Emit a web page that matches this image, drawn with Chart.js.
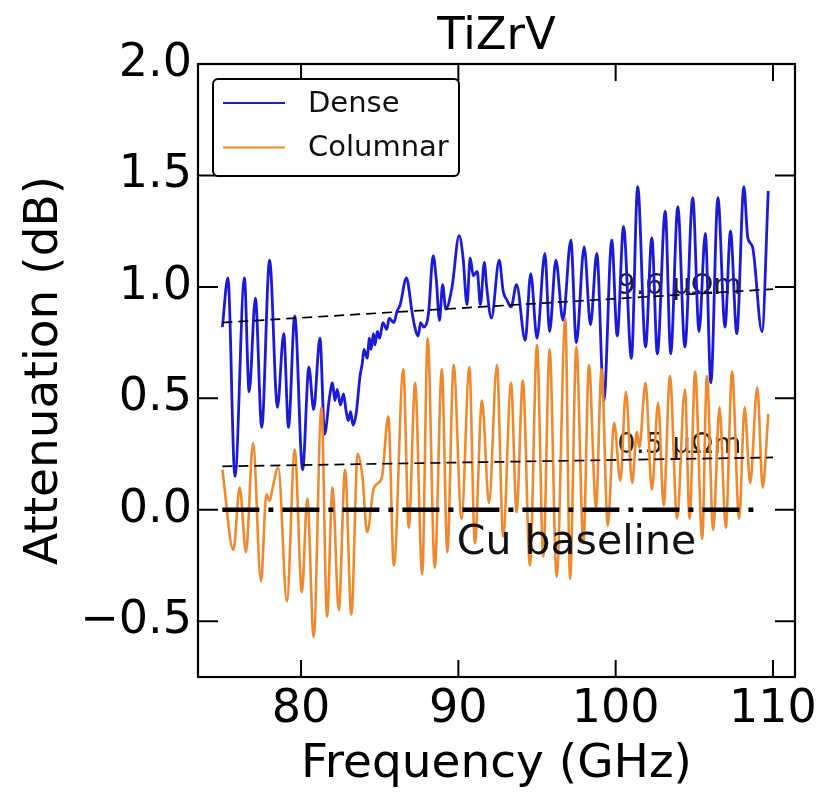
<!DOCTYPE html>
<html><head><meta charset="utf-8">
<script src="https://cdn.jsdelivr.net/npm/chart.js@4.4.0/dist/chart.umd.min.js"></script>
<style>html,body{margin:0;padding:0;background:#fff;}</style>
</head><body>
<canvas id="c" width="818" height="793"></canvas>
<script>
// ---- data ----
const denseFreq = [75.0,75.35,75.8,76.4,76.7,77.1,77.5,78.0,78.5,78.9,79.2,79.6,80.1,80.5,80.8,81.2,81.5,81.8,82.0,82.15,82.3,82.5,82.7,82.85,83.0,83.15,83.3,83.5,83.75,83.9,84.0,84.2,84.35,84.45,84.6,84.7,84.85,85.0,85.2,85.45,85.6,85.9,86.1,86.3,86.7,87.05,87.2,87.45,87.6,87.8,88.1,88.4,88.6,88.8,89.0,89.2,89.6,90.05,90.3,90.55,90.75,90.95,91.2,91.4,91.65,91.8,92.1,92.6,92.85,93.1,93.35,93.7,94.25,94.6,95.0,95.5,95.8,96.2,96.65,97.15,97.5,98.0,98.4,98.8,99.25,99.75,100.1,100.5,101.0,101.4,101.9,102.3,102.65,103.15,103.5,103.95,104.4,104.9,105.3,105.7,106.05,106.5,106.95,107.3,107.7,108.15,108.4,108.7,109.3,109.7];
const denseAtt  = [0.82,1.04,0.15,1.04,0.53,0.95,0.37,1.12,0.46,0.79,0.37,0.87,0.18,0.64,0.45,0.77,0.34,0.50,0.57,0.49,0.54,0.47,0.52,0.45,0.40,0.44,0.38,0.43,0.60,0.66,0.72,0.68,0.77,0.72,0.79,0.74,0.80,0.77,0.84,0.81,0.86,0.84,0.89,0.92,1.04,0.89,0.83,0.78,0.84,0.82,0.88,1.14,1.03,0.85,1.01,0.90,1.00,1.23,1.13,0.92,1.13,1.05,1.07,0.92,1.11,1.00,0.86,1.12,0.98,0.94,0.91,1.01,0.76,1.06,0.77,1.15,0.80,1.12,0.85,1.21,0.75,1.18,0.83,1.15,0.49,1.21,0.78,1.27,0.68,1.45,0.73,1.22,0.70,1.34,0.70,1.36,0.73,1.40,0.80,1.24,0.57,1.40,0.82,1.25,0.79,1.45,1.22,1.18,0.80,1.43];
const colFreq = [75.0,75.7,76.1,76.5,76.95,77.45,77.8,78.0,78.2,78.55,79.1,79.6,80.05,80.4,80.8,81.3,81.65,82.0,82.4,82.8,83.2,83.6,83.9,84.2,84.6,84.9,85.15,85.55,85.9,86.5,86.85,87.25,87.7,88.05,88.5,88.95,89.3,89.7,90.2,90.7,91.05,91.5,91.95,92.45,92.85,93.35,93.7,94.1,94.55,95.0,95.4,95.8,96.25,96.8,97.1,97.5,97.95,98.3,98.75,99.1,99.5,99.9,100.3,100.65,101.05,101.35,101.5,101.9,102.3,102.7,103.05,103.45,103.9,104.4,104.7,105.05,105.5,105.8,106.2,106.6,107.0,107.4,107.85,108.2,108.55,109.0,109.35,109.7];
const colAtt  = [0.18,-0.18,0.10,-0.19,0.30,-0.32,0.07,0.04,0.10,0.19,-0.41,0.27,-0.37,0.05,-0.57,0.46,-0.48,0.10,-0.45,0.18,-0.47,0.25,0.15,-0.10,0.09,0.12,0.15,0.42,-0.25,0.63,-0.08,0.57,-0.29,0.77,-0.26,0.63,-0.19,0.65,-0.04,0.64,-0.15,0.49,0.03,0.65,-0.12,0.57,-0.01,0.58,-0.25,0.74,-0.21,0.72,-0.30,0.86,-0.31,0.73,-0.15,0.65,0.01,0.63,-0.07,0.39,0.13,0.53,0.12,0.35,0.28,0.57,0.09,0.48,0.02,0.60,-0.04,0.54,-0.04,0.62,-0.13,0.60,-0.09,0.46,-0.08,0.62,-0.04,0.46,0.12,0.55,0.10,0.43];
const fitDenseFreq = [75, 110];
const fitDenseAtt  = [0.84, 0.99];
const fitColFreq = [75, 110];
const fitColAtt  = [0.195, 0.235];
const baseFreq = [75, 109.2];
const baseAtt  = [0, 0];
const xTicks = [80, 90, 100, 110];
const yTicks = [-0.5, 0.0, 0.5, 1.0, 1.5, 2.0];
const seriesLabels = ['Dense', 'Columnar'];
const notes = [
  {text: '9.6 \u03bc\u03a9m', x: 100.1, y: 0.97},
  {text: '0.5 \u03bc\u03a9m', x: 100.1, y: 0.255},
  {text: 'Cu baseline', x: 89.9, y: -0.2}
];

const pts = (xs, ys) => xs.map((x, i) => ({x: x, y: ys[i]}));
const FONT = 'DejaVu Sans';
const BLUE = '#1a1ad8', ORANGE = '#f0892e';

const framePlugin = {
  id: 'frame',
  beforeDatasetsDraw(chart) {
    const {ctx, scales: {x, y}} = chart;
    ctx.save();
    ctx.fillStyle = '#222';
    ctx.font = '29px "' + FONT + '"';
    ctx.textAlign = 'left';
    ctx.textBaseline = 'alphabetic';
    for (let i = 0; i < 2; i++) {
      ctx.fillText(notes[i].text, x.getPixelForValue(notes[i].x), y.getPixelForValue(notes[i].y));
    }
    ctx.restore();
  },
  afterDatasetsDraw(chart) {
    const {ctx, chartArea: a, scales: {x, y}} = chart;
    ctx.save();
    ctx.fillStyle = '#111';
    ctx.font = '41px "' + FONT + '"';
    ctx.textAlign = 'left';
    ctx.textBaseline = 'alphabetic';
    ctx.fillText(notes[2].text, x.getPixelForValue(notes[2].x), y.getPixelForValue(notes[2].y));
    // frame
    ctx.strokeStyle = '#000';
    ctx.lineWidth = 2.2;
    ctx.strokeRect(a.left, a.top, a.right - a.left, a.bottom - a.top);
    ctx.lineWidth = 2;
    ctx.beginPath();
    xTicks.forEach(v => {
      const px = x.getPixelForValue(v);
      ctx.moveTo(px, a.bottom); ctx.lineTo(px, a.bottom - 17);
      ctx.moveTo(px, a.top); ctx.lineTo(px, a.top + 17);
    });
    yTicks.forEach(v => {
      const py = y.getPixelForValue(v);
      ctx.moveTo(a.left, py); ctx.lineTo(a.left + 20, py);
      ctx.moveTo(a.right, py); ctx.lineTo(a.right - 20, py);
    });
    ctx.stroke();
    // legend
    const lx = a.left + 15, ly = a.top + 15, lw = 246, lh = 97, r = 5;
    ctx.beginPath();
    ctx.moveTo(lx + r, ly);
    ctx.arcTo(lx + lw, ly, lx + lw, ly + lh, r);
    ctx.arcTo(lx + lw, ly + lh, lx, ly + lh, r);
    ctx.arcTo(lx, ly + lh, lx, ly, r);
    ctx.arcTo(lx, ly, lx + lw, ly, r);
    ctx.closePath();
    ctx.fillStyle = '#fff';
    ctx.fill();
    ctx.lineWidth = 2;
    ctx.strokeStyle = '#000';
    ctx.stroke();
    const ds = chart.data.datasets;
    [0, 1].forEach(i => {
      const yy = ly + 24 + i * 44.5;
      ctx.beginPath();
      ctx.strokeStyle = ds[i].borderColor;
      ctx.lineWidth = 2.2;
      ctx.moveTo(lx + 10, yy); ctx.lineTo(lx + 72, yy);
      ctx.stroke();
      ctx.fillStyle = '#111';
      ctx.font = '29px "' + FONT + '"';
      ctx.textAlign = 'left';
      ctx.textBaseline = 'middle';
      ctx.fillText(ds[i].label, lx + 95, yy + 1);
    });
    ctx.restore();
  }
};

new Chart(document.getElementById('c'), {
  type: 'scatter',
  data: {
    datasets: [
      {label: seriesLabels[0], data: pts(denseFreq, denseAtt), borderColor: BLUE, borderWidth: 2.8, showLine: true, pointRadius: 0, cubicInterpolationMode: 'monotone', order: 3},
      {label: seriesLabels[1], data: pts(colFreq, colAtt), borderColor: ORANGE, borderWidth: 2.6, showLine: true, pointRadius: 0, cubicInterpolationMode: 'monotone', order: 2},
      {label: 'fitD', data: pts(fitDenseFreq, fitDenseAtt), borderColor: '#000', borderWidth: 1.7, borderDash: [10, 6], showLine: true, pointRadius: 0, order: 1},
      {label: 'fitC', data: pts(fitColFreq, fitColAtt), borderColor: '#000', borderWidth: 1.7, borderDash: [10, 6], showLine: true, pointRadius: 0, order: 1},
      {label: 'base', data: pts(baseFreq, baseAtt), borderColor: '#000', borderWidth: 4.5, borderDash: [37, 9, 5, 9], borderCapStyle: 'butt', showLine: true, pointRadius: 0, order: 0}
    ]
  },
  options: {
    responsive: false,
    animation: false,
    devicePixelRatio: 1,
    layout: {padding: {left: 0, right: 23, top: 0, bottom: 0}},
    plugins: {
      legend: {display: false},
      tooltip: {enabled: false},
      title: {display: true, fullSize: false, text: 'TiZrV', color: '#000', font: {family: FONT, size: 45, weight: 'normal'}, padding: {top: 10, bottom: 0}}
    },
    scales: {
      x: {
        type: 'linear', min: 73.45, max: 111.4,
        grid: {display: false, drawTicks: false},
        border: {display: false},
        afterBuildTicks: s => { s.ticks = xTicks.map(v => ({value: v})); },
        afterFit: s => { s.height = 116; s.paddingLeft = 0; s.paddingRight = 0; },
        ticks: {color: '#000', font: {family: FONT, size: 46}, padding: 5, maxRotation: 0, autoSkip: false, callback: v => String(v)},
        title: {display: true, text: 'Frequency (GHz)', color: '#000', font: {family: FONT, size: 47}, padding: {top: 0, bottom: 0}}
      },
      y: {
        type: 'linear', min: -0.75, max: 2.0,
        grid: {display: false, drawTicks: false},
        border: {display: false},
        afterBuildTicks: s => { s.ticks = yTicks.map(v => ({value: v})); },
        afterFit: s => { s.width = 198; s.paddingTop = 0; s.paddingBottom = 0; },
        ticks: {color: '#000', font: {family: FONT, size: 46}, padding: 6, autoSkip: false, callback: v => v.toFixed(1).replace('-', '\u2212')},
        title: {display: true, text: 'Attenuation (dB)', color: '#000', font: {family: FONT, size: 47}, padding: {top: 17, bottom: 0}}
      }
    }
  },
  plugins: [framePlugin]
});
</script>
</body></html>
